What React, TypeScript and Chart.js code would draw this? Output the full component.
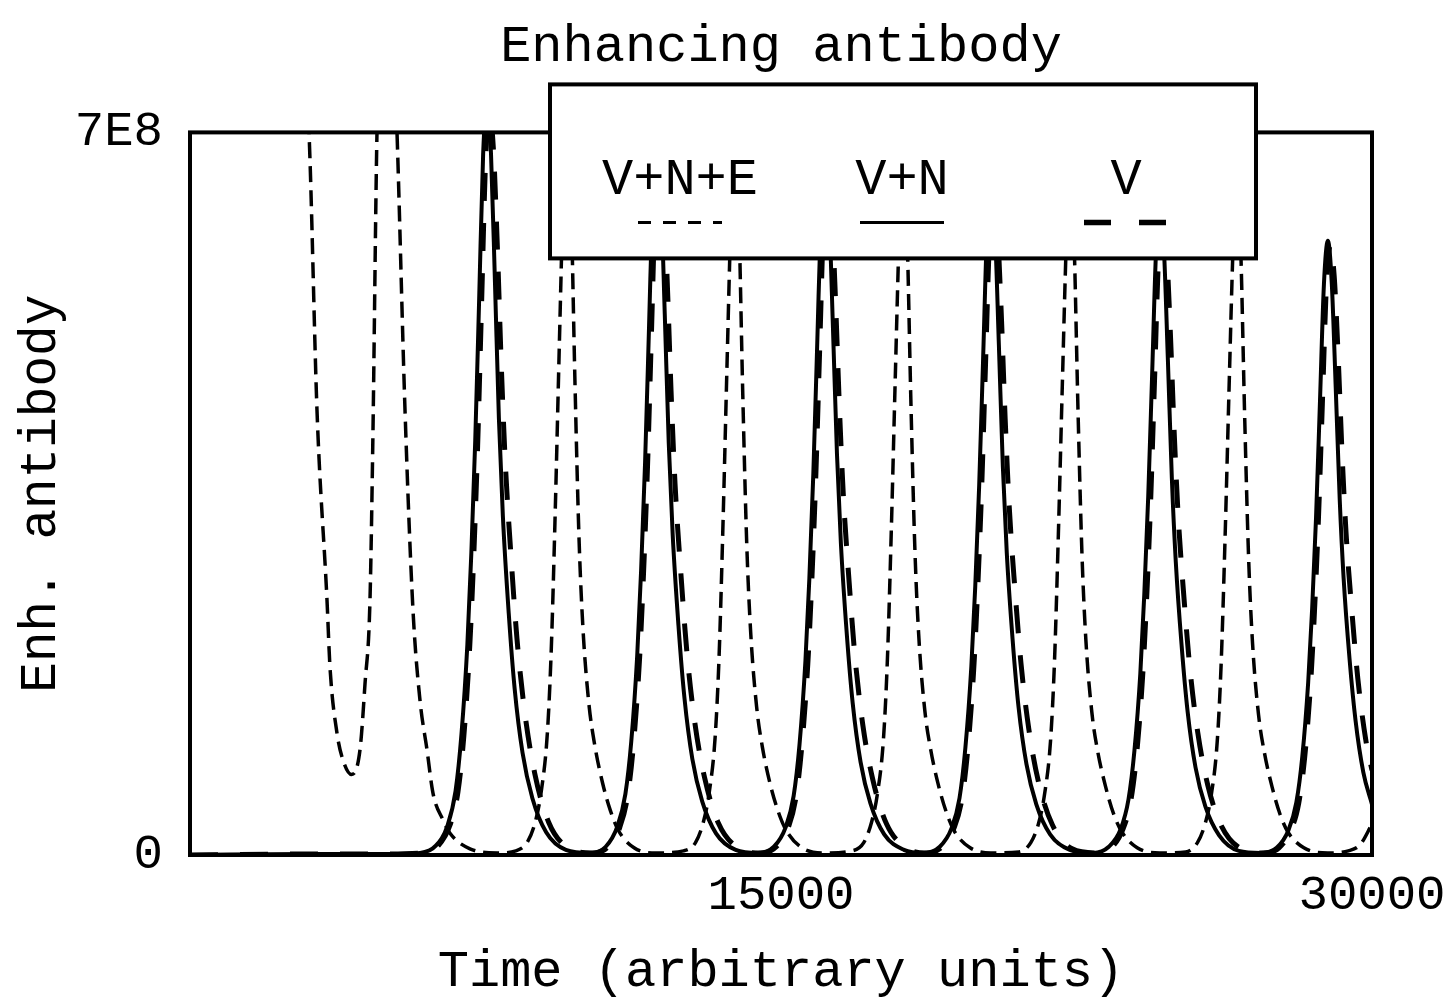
import React, { useEffect, useRef } from 'react';
import { Chart, registerables } from 'chart.js';

Chart.register(...registerables);

// ---------- data (values in units of 1E8) ----------
const UNIT = 1e8;

const TITLE = 'Enhancing antibody';
const X_TITLE = 'Time (arbitrary units)';
const Y_TITLE = 'Enh. antibody';

const X_TICKS = [15000, 30000];
const X_TICK_LABELS = ['15000', '30000'];
const Y_TICKS = [0, 7e8];
const Y_TICK_LABELS = ['0', '7E8'];

const SERIES_NAMES = ['V+N+E', 'V+N', 'V'];

// V+N+E (short dashed)
const vneTime = [0, 1000, 2000, 2600, 3020, 3223, 3477, 3553, 3731, 3900, 4100, 4315, 4442, 4568, 4640, 4746, 5000, 5254, 5457, 5660, 5837, 6015, 6167, 6421, 6599, 7106, 7800,
  8270, 8570, 8770, 8920, 9070, 9170, 9270, 9370, 9470, 9570, 9670, 9770, 9870, 9970, 10120, 10270, 10470, 10670, 10870, 11270, 11850,
  12530, 12830, 13030, 13180, 13330, 13430, 13530, 13630, 13730, 13830, 13930, 14030, 14130, 14230, 14380, 14530, 14730, 14930, 15130, 15530, 16120,
  16800, 17100, 17300, 17450, 17600, 17700, 17800, 17900, 18000, 18100, 18200, 18300, 18400, 18500, 18650, 18800, 19000, 19200, 19400, 19800, 20330,
  21040, 21340, 21540, 21690, 21840, 21940, 22040, 22140, 22240, 22340, 22440, 22540, 22640, 22740, 22890, 23040, 23240, 23440, 23640, 24040, 24620,
  25270, 25570, 25770, 25920, 26070, 26170, 26270, 26370, 26470, 26570, 26670, 26770, 26870, 26970, 27120, 27270, 27470, 27670, 27870, 28270, 28880, 29400, 29700, 30000];
const vneValue = [25, 18, 12, 9, 7.0, 4.31, 2.47, 1.82, 1.18, 0.9, 0.78, 1.02, 1.66, 2.47, 4.0, 7.0, 9.5, 7.0, 4.31, 2.37, 1.50, 1.02, 0.60, 0.34, 0.21, 0.06, 0.02,
  0.04, 0.13, 0.33, 0.63, 1.18, 2.00, 3.33, 4.88, 6.36, 7.4, 6.36, 4.59, 3.11, 2.22, 1.48, 1.07, 0.70, 0.43, 0.24, 0.07, 0.02,
  0.04, 0.12, 0.32, 0.61, 1.15, 1.94, 3.24, 4.75, 6.19, 7.2, 6.19, 4.46, 3.02, 2.16, 1.44, 1.04, 0.68, 0.42, 0.24, 0.07, 0.02,
  0.04, 0.12, 0.32, 0.60, 1.12, 1.89, 3.15, 4.62, 6.02, 7.0, 6.02, 4.34, 2.94, 2.10, 1.40, 1.02, 0.67, 0.41, 0.23, 0.07, 0.02,
  0.03, 0.12, 0.31, 0.59, 1.10, 1.86, 3.11, 4.55, 5.93, 6.9, 5.93, 4.28, 2.90, 2.07, 1.38, 1.00, 0.66, 0.40, 0.23, 0.07, 0.02,
  0.03, 0.12, 0.31, 0.58, 1.09, 1.84, 3.06, 4.49, 5.85, 6.8, 5.85, 4.22, 2.86, 2.04, 1.36, 0.99, 0.65, 0.39, 0.22, 0.07, 0.02, 0.04, 0.10, 0.30];

// V+N (solid)
const vnTime = [0, 3000, 5000,
  5840, 6240, 6540, 6740, 6890, 7040, 7140, 7240, 7340, 7440, 7540, 7640, 7740, 7840, 7940, 8090, 8240, 8440, 8690, 9040, 9540,
  10150, 10550, 10850, 11050, 11200, 11350, 11450, 11550, 11650, 11750, 11850, 11950, 12050, 12150, 12250, 12400, 12550, 12750, 13000, 13350, 13850,
  14420, 14820, 15120, 15320, 15470, 15620, 15720, 15820, 15920, 16020, 16120, 16220, 16320, 16420, 16520, 16670, 16820, 17020, 17270, 17620, 18120,
  18630, 19030, 19330, 19530, 19680, 19830, 19930, 20030, 20130, 20230, 20330, 20430, 20530, 20630, 20730, 20880, 21030, 21230, 21480, 21830, 22330,
  22920, 23320, 23620, 23820, 23970, 24120, 24220, 24320, 24420, 24520, 24620, 24720, 24820, 24920, 25020, 25170, 25320, 25520, 25770, 26120, 26620,
  27180, 27580, 27880, 28080, 28230, 28380, 28480, 28580, 28680, 28780, 28880, 28980, 29080, 29180, 29280, 29430, 29580, 29780, 30000];
const vnValue = [0, 0.01, 0.01,
  0.02, 0.09, 0.29, 0.62, 1.17, 2.04, 2.92, 4.02, 5.40, 6.79, 7.3, 6.79, 5.55, 4.23, 3.29, 2.34, 1.61, 0.99, 0.55, 0.22, 0.05,
  0.02, 0.08, 0.28, 0.59, 1.10, 1.93, 2.76, 3.80, 5.11, 6.42, 6.9, 6.42, 5.24, 4.00, 3.11, 2.21, 1.52, 0.93, 0.52, 0.21, 0.05,
  0.02, 0.08, 0.27, 0.57, 1.07, 1.88, 2.68, 3.69, 4.96, 6.23, 6.7, 6.23, 5.09, 3.89, 3.02, 2.14, 1.47, 0.90, 0.50, 0.20, 0.05,
  0.02, 0.08, 0.26, 0.55, 1.04, 1.82, 2.60, 3.58, 4.81, 6.05, 6.5, 6.05, 4.94, 3.77, 2.93, 2.08, 1.43, 0.88, 0.49, 0.20, 0.05,
  0.02, 0.08, 0.25, 0.54, 1.01, 1.76, 2.52, 3.47, 4.66, 5.86, 6.3, 5.86, 4.79, 3.65, 2.84, 2.02, 1.39, 0.85, 0.47, 0.19, 0.04,
  0.02, 0.07, 0.24, 0.51, 0.95, 1.67, 2.38, 3.27, 4.40, 5.53, 5.95, 5.53, 4.52, 3.45, 2.68, 1.90, 1.31, 0.80, 0.49];

// V (long dashed)
const vTime = [0, 3000, 5000,
  5900, 6300, 6600, 6800, 6950, 7100, 7200, 7300, 7400, 7500, 7600, 7700, 7800, 7900, 8000, 8150, 8300, 8500, 8750, 9100, 9600,
  10210, 10610, 10910, 11110, 11260, 11410, 11510, 11610, 11710, 11810, 11910, 12010, 12110, 12210, 12310, 12460, 12610, 12810, 13060, 13410, 13910,
  14480, 14880, 15180, 15380, 15530, 15680, 15780, 15880, 15980, 16080, 16180, 16280, 16380, 16480, 16580, 16730, 16880, 17080, 17330, 17680, 18180,
  18690, 19090, 19390, 19590, 19740, 19890, 19990, 20090, 20190, 20290, 20390, 20490, 20590, 20690, 20790, 20940, 21090, 21290, 21540, 21890, 22390,
  22980, 23380, 23680, 23880, 24030, 24180, 24280, 24380, 24480, 24580, 24680, 24780, 24880, 24980, 25080, 25230, 25380, 25580, 25830, 26180, 26680,
  27240, 27640, 27940, 28140, 28290, 28440, 28540, 28640, 28740, 28840, 28940, 29040, 29140, 29240, 29340, 29490, 29640, 29840, 30000];
const vValue = [0, 0.01, 0.01,
  0.02, 0.09, 0.29, 0.61, 1.15, 2.02, 2.88, 3.96, 5.33, 6.70, 7.2, 6.84, 5.90, 4.75, 3.82, 2.88, 2.09, 1.37, 0.79, 0.32, 0.07,
  0.02, 0.08, 0.27, 0.58, 1.09, 1.90, 2.72, 3.74, 5.03, 6.32, 6.8, 6.46, 5.58, 4.49, 3.60, 2.72, 1.97, 1.29, 0.75, 0.31, 0.07,
  0.02, 0.08, 0.26, 0.56, 1.06, 1.85, 2.64, 3.63, 4.88, 6.14, 6.6, 6.27, 5.41, 4.36, 3.50, 2.64, 1.91, 1.25, 0.73, 0.30, 0.07,
  0.02, 0.08, 0.26, 0.54, 1.02, 1.79, 2.56, 3.52, 4.74, 5.95, 6.4, 6.08, 5.25, 4.22, 3.39, 2.56, 1.86, 1.22, 0.70, 0.29, 0.06,
  0.02, 0.07, 0.25, 0.53, 0.99, 1.74, 2.48, 3.41, 4.59, 5.77, 6.2, 5.89, 5.08, 4.09, 3.29, 2.48, 1.80, 1.18, 0.68, 0.28, 0.06,
  0.02, 0.07, 0.24, 0.50, 0.94, 1.65, 2.36, 3.25, 4.37, 5.49, 5.9, 5.61, 4.84, 3.89, 3.13, 2.36, 1.71, 1.12, 0.82];

// ---------- styling ----------
const FONT = "'Liberation Mono', 'Courier New', monospace";
const INK = '#000';

const toPoints = (ts: number[], vs: number[]) => ts.map((t, i) => ({ x: t, y: vs[i] * UNIT }));

export default function App() {
  const ref = useRef<HTMLCanvasElement | null>(null);

  useEffect(() => {
    const canvas = ref.current;
    if (!canvas) return;

    const framePlugin = {
      id: 'frameAndLegendBox',
      afterDatasetsDraw(chart: any) {
        const { ctx, chartArea: a } = chart;
        ctx.save();
        ctx.strokeStyle = INK;
        ctx.lineWidth = 4;
        ctx.setLineDash([]);
        ctx.strokeRect(a.left, a.top, a.right - a.left, a.bottom - a.top);
        ctx.restore();
      },
      afterDraw(chart: any) {
        const { ctx, chartArea: a } = chart;
        const bx = a.left + 360;
        const by = a.top - 48;
        const bw = 706;
        const bh = 174;
        ctx.save();
        ctx.fillStyle = '#fff';
        ctx.fillRect(bx, by, bw, bh);
        ctx.strokeStyle = INK;
        ctx.lineWidth = 4;
        ctx.setLineDash([]);
        ctx.strokeRect(bx, by, bw, bh);

        ctx.fillStyle = INK;
        ctx.font = `52px ${FONT}`;
        ctx.textAlign = 'center';
        ctx.textBaseline = 'middle';
        const centers = [bx + 130, bx + 352, bx + 576];
        SERIES_NAMES.forEach((n, i) => ctx.fillText(n, centers[i], by + 96));

        const sy = by + 138;
        const samples = [
          { dash: [13, 12], w: 3 },
          { dash: [], w: 3 },
          { dash: [27, 28], w: 5.5 },
        ];
        samples.forEach((s, i) => {
          ctx.beginPath();
          ctx.setLineDash(s.dash);
          ctx.lineWidth = s.w;
          ctx.moveTo(centers[i] - 42, sy);
          ctx.lineTo(centers[i] + 42, sy);
          ctx.stroke();
        });
        ctx.restore();
      },
    };

    const chart = new Chart(canvas, {
      type: 'line',
      data: {
        datasets: [
          {
            label: SERIES_NAMES[0],
            data: toPoints(vneTime, vneValue),
            borderColor: INK,
            borderWidth: 3.5,
            borderDash: [16, 8],
            pointRadius: 0,
            fill: false,
            cubicInterpolationMode: 'monotone',
          },
          {
            label: SERIES_NAMES[1],
            data: toPoints(vnTime, vnValue),
            borderColor: INK,
            borderWidth: 4,
            pointRadius: 0,
            fill: false,
            cubicInterpolationMode: 'monotone',
          },
          {
            label: SERIES_NAMES[2],
            data: toPoints(vTime, vValue),
            borderColor: INK,
            borderWidth: 5,
            borderDash: [28, 22],
            pointRadius: 0,
            fill: false,
            cubicInterpolationMode: 'monotone',
          },
        ],
      },
      options: {
        responsive: false,
        animation: false,
        events: [],
        layout: { padding: { left: 0, right: 79, top: 0, bottom: 0 } },
        plugins: {
          legend: { display: false },
          tooltip: { enabled: false },
          title: {
            display: true,
            text: TITLE,
            fullSize: false,
            color: INK,
            font: { family: FONT, size: 52, weight: 'normal', lineHeight: 1.2 },
            padding: { top: 16, bottom: 54 },
          },
        },
        scales: {
          x: {
            type: 'linear',
            min: 0,
            max: 30000,
            grid: { display: false },
            border: { display: false },
            afterBuildTicks: (axis: any) => {
              axis.ticks = X_TICKS.map((v) => ({ value: v }));
            },
            afterFit: (s: any) => {
              s.height = 148;
            },
            ticks: {
              autoSkip: false,
              maxRotation: 0,
              padding: 4,
              color: INK,
              font: { family: FONT, size: 49 },
              callback: (v: any) => X_TICK_LABELS[X_TICKS.indexOf(Number(v))],
            },
            title: {
              display: true,
              text: X_TITLE,
              color: INK,
              font: { family: FONT, size: 52, lineHeight: 1.2 },
              padding: { top: 0, bottom: 0 },
            },
          },
          y: {
            type: 'linear',
            min: 0,
            max: 7e8,
            grid: { display: false },
            border: { display: false },
            afterBuildTicks: (axis: any) => {
              axis.ticks = Y_TICKS.map((v) => ({ value: v }));
            },
            afterFit: (s: any) => {
              s.width = 190;
            },
            ticks: {
              autoSkip: false,
              padding: 19,
              color: INK,
              font: { family: FONT, size: 49 },
              callback: (v: any) => Y_TICK_LABELS[Y_TICKS.indexOf(Number(v))],
            },
            title: {
              display: true,
              text: Y_TITLE,
              color: INK,
              font: { family: FONT, size: 51, lineHeight: 1.2 },
              padding: { top: 11, bottom: 0 },
            },
          },
        },
      },
      plugins: [framePlugin],
    } as any);

    return () => chart.destroy();
  }, []);

  return (
    <div style={{ position: 'fixed', left: 0, top: 0, width: 1451, height: 1003, background: '#fff' }}>
      <canvas ref={ref} width={1451} height={1003} style={{ display: 'block', width: 1451, height: 1003 }} />
    </div>
  );
}
